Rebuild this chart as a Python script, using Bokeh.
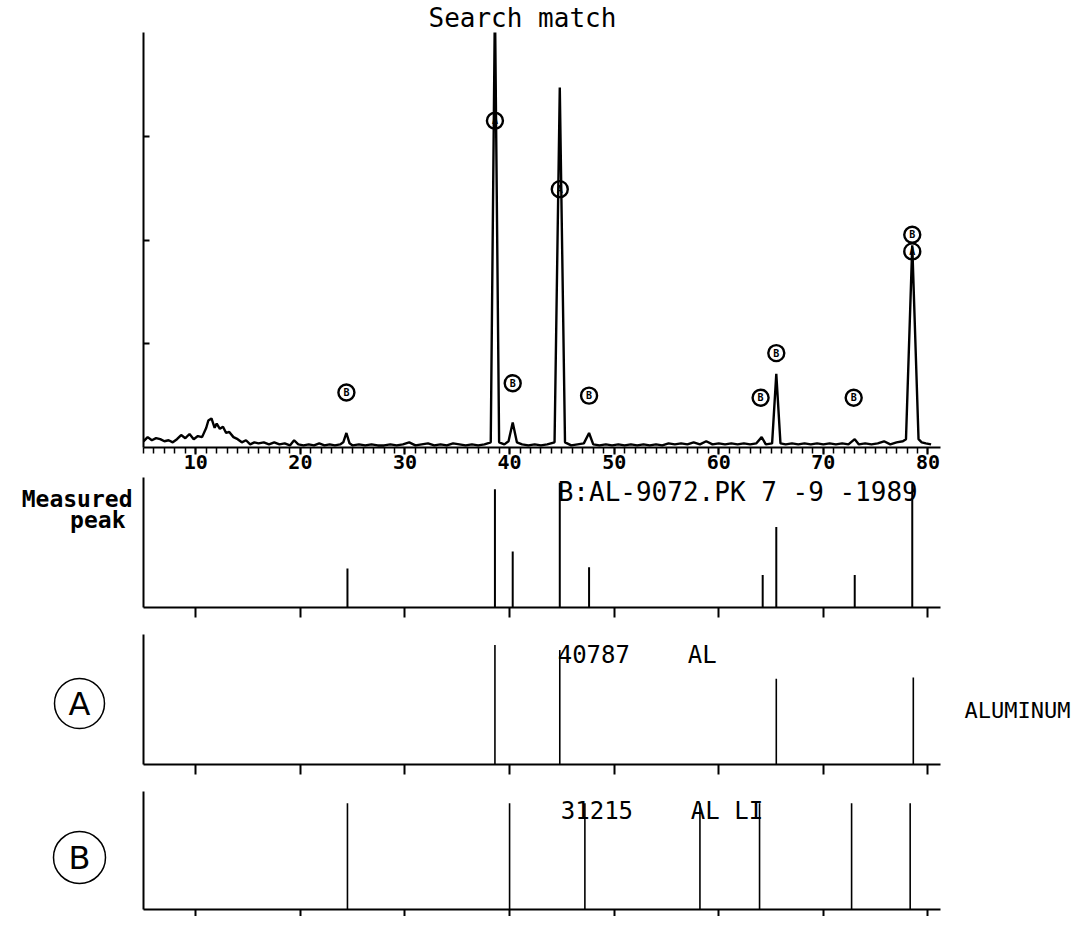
from bokeh.plotting import figure
from bokeh.layouts import column, row
from bokeh.models import Range1d, FixedTicker, Label
from bokeh.embed import file_html
from bokeh.resources import INLINE
from bokeh.core.properties import value

# ---------------- data ----------------
two_theta = [5.0, 5.4, 5.8, 6.2, 6.6, 7.0, 7.4, 7.8, 8.2, 8.6, 9.0, 9.4, 9.8, 10.2, 10.6,
             11.0, 11.2, 11.5, 11.8, 12.0, 12.3, 12.6, 12.9, 13.2, 13.6, 14.0, 14.4, 14.8,
             15.2, 15.6, 16.0, 16.5, 17.0, 17.5, 18.0, 18.5, 19.0, 19.4, 19.8, 20.3, 20.8,
             21.3, 21.8, 22.3, 22.8, 23.3, 23.8, 24.1, 24.4, 24.7, 25.0, 25.6, 26.2, 26.8,
             27.4, 28.0, 28.6, 29.2, 29.8, 30.4, 31.0, 31.6, 32.2, 32.8, 33.4, 34.0, 34.6,
             35.2, 35.8, 36.4, 37.0, 37.6, 38.2, 38.6, 39.0, 39.5, 39.9, 40.3, 40.7, 41.2,
             41.8, 42.4, 43.0, 43.6, 44.3, 44.8, 45.3, 45.9, 46.5, 47.1, 47.6, 48.0, 48.6,
             49.2, 49.8, 50.4, 51.0, 51.6, 52.2, 52.8, 53.4, 54.0, 54.6, 55.2, 55.8, 56.4,
             57.0, 57.6, 58.2, 58.8, 59.4, 60.0, 60.6, 61.2, 61.8, 62.4, 63.0, 63.6, 64.1,
             64.5, 65.1, 65.5, 65.9, 66.4, 67.0, 67.6, 68.2, 68.8, 69.4, 70.0, 70.6, 71.2,
             71.8, 72.4, 73.0, 73.4, 74.0, 74.6, 75.2, 75.8, 76.4, 77.0, 77.6, 77.9, 78.5,
             79.1, 79.4, 79.8, 80.3]
intensity = [0.06, 0.10, 0.07, 0.09, 0.08, 0.06, 0.07, 0.05, 0.08, 0.12, 0.09, 0.13, 0.08, 0.11, 0.10,
             0.19, 0.26, 0.28, 0.19, 0.23, 0.18, 0.20, 0.14, 0.15, 0.10, 0.08, 0.05, 0.07,
             0.03, 0.05, 0.04, 0.05, 0.03, 0.05, 0.03, 0.04, 0.02, 0.07, 0.03, 0.02, 0.03,
             0.02, 0.04, 0.02, 0.03, 0.02, 0.03, 0.05, 0.14, 0.04, 0.02, 0.03, 0.02, 0.03,
             0.02, 0.02, 0.03, 0.02, 0.03, 0.05, 0.02, 0.03, 0.04, 0.02, 0.03, 0.02, 0.04,
             0.03, 0.02, 0.03, 0.02, 0.03, 0.05, 4.30, 0.05, 0.03, 0.06, 0.24, 0.05, 0.03,
             0.02, 0.03, 0.02, 0.03, 0.05, 3.47, 0.05, 0.02, 0.03, 0.04, 0.14, 0.03, 0.02,
             0.03, 0.02, 0.03, 0.02, 0.03, 0.02, 0.03, 0.02, 0.03, 0.02, 0.04, 0.03, 0.04,
             0.03, 0.05, 0.03, 0.06, 0.03, 0.04, 0.03, 0.04, 0.03, 0.04, 0.03, 0.04, 0.10,
             0.03, 0.04, 0.71, 0.04, 0.03, 0.04, 0.03, 0.04, 0.03, 0.04, 0.03, 0.04, 0.03,
             0.04, 0.03, 0.08, 0.03, 0.04, 0.03, 0.04, 0.06, 0.03, 0.05, 0.06, 0.08, 1.95,
             0.08, 0.05, 0.04, 0.03]

marker_x = [38.6, 44.8, 78.5, 78.5, 24.4, 40.3, 47.6, 64.0, 65.5, 72.9]
marker_y = [3.15, 2.49, 1.89, 2.05, 0.53, 0.62, 0.50, 0.48, 0.91, 0.48]
marker_phase = ["A", "A", "A", "B", "B", "B", "B", "B", "B", "B"]

tick_values = [10, 20, 30, 40, 50, 60, 70, 80]
y_tick_values = [1, 2, 3]

measured_x = [24.5, 38.6, 40.3, 44.8, 47.6, 64.2, 65.5, 73.0, 78.5]
measured_h = [30, 91, 43, 96, 31, 25, 62, 25, 95]

phase_a_x = [38.6, 44.8, 65.5, 78.6]
phase_a_h = [92, 88, 66, 67]

phase_b_x = [24.5, 40.0, 47.2, 58.2, 63.9, 72.7, 78.3]
phase_b_h = [90, 90, 90, 90, 90, 90, 90]

NB = "\u00a0"
title_text = "Search match"
measured_title = "B:AL-9072.PK" + NB + "7" + NB + "-9" + NB + "-1989"
measured_side = ["Measured", "peak"]
phase_a_title = "40787" + NB * 4 + "AL"
phase_a_name = "ALUMINUM"
phase_b_title = "31215" + NB * 4 + "AL" + NB + "LI"

# ---------------- layout ----------------
X0, X1 = 5, 81.2
MONO = "DejaVu Sans Mono"
FW = 797          # frame width (x 5 .. 81.2)
SIDE = 140        # width of the left side strip for the lower panels
PAD = 3           # small border so the axis lines are fully drawn


def base_fig(frame_h, left, right, top, bottom, y_end):
    p = figure(frame_width=FW, frame_height=frame_h,
               x_range=Range1d(X0, X1), y_range=Range1d(0, y_end),
               output_backend="svg", toolbar_location=None,
               min_border_left=left, min_border_right=right,
               min_border_top=top, min_border_bottom=bottom)
    p.outline_line_color = None
    p.grid.visible = False
    p.background_fill_color = "white"
    p.border_fill_color = "white"
    return p


def blank_labels(ax, ticks):
    ax.major_label_overrides = {t: "" for t in ticks}
    ax.major_label_text_font_size = "0px"
    ax.major_label_standoff = 0


# ---------- main spectrum ----------
main = base_fig(415, 143, 132, 32, 30, 4)
main.line(two_theta, intensity, line_color="black", line_width=2.4)
main.scatter(marker_x, marker_y, size=16, marker="circle", fill_color=None,
             line_color="black", line_width=2.4)
main.text(marker_x, marker_y, text=marker_phase, text_font=value(MONO),
          text_font_size="10px", text_font_style="bold", text_align="center",
          text_baseline="middle", text_color="black")

xa = main.xaxis[0]
xa.ticker = FixedTicker(ticks=tick_values, minor_ticks=list(range(5, 81)))
xa.major_tick_out = 7
xa.major_tick_in = 0
xa.minor_tick_out = 6
xa.minor_tick_in = 0
xa.axis_line_width = 2
xa.major_tick_line_width = 2
xa.minor_tick_line_width = 1.5
xa.major_label_text_font = MONO
xa.major_label_text_font_size = "20px"
xa.major_label_text_font_style = "bold"
xa.major_label_text_color = "black"
xa.major_label_standoff = 0

ya = main.yaxis[0]
ya.ticker = FixedTicker(ticks=y_tick_values, minor_ticks=[])
ya.major_tick_in = 6
ya.major_tick_out = 0
blank_labels(ya, y_tick_values)
ya.axis_line_width = 2
ya.major_tick_line_width = 2

main.title.text = title_text
main.title.text_font = MONO
main.title.text_font_size = "26px"
main.title.text_font_style = "normal"
main.title.text_color = "black"
main.title.align = "left"
main.title.offset = 285
main.title.standoff = 0


# ---------- stick panels ----------
def stick_panel(xs, hs, frame_h, right, bottom, lw, tick_out):
    p = base_fig(frame_h, PAD, right, 0, bottom, 100)
    p.segment(x0=xs, y0=0, x1=xs, y1=hs, line_color="black", line_width=lw)
    ax = p.xaxis[0]
    ax.ticker = FixedTicker(ticks=tick_values, minor_ticks=[])
    ax.major_tick_out = tick_out
    ax.major_tick_in = 0
    blank_labels(ax, tick_values)
    ax.axis_line_width = 2
    ax.major_tick_line_width = 2
    ay = p.yaxis[0]
    ay.ticker = FixedTicker(ticks=[], minor_ticks=[])
    ay.major_tick_out = 0
    ay.major_tick_in = 0
    ay.major_label_text_font_size = "0px"
    ay.major_label_standoff = 0
    ay.axis_line_width = 2
    return p


def side_fig(w, h):
    s = figure(frame_width=w, frame_height=h, x_range=Range1d(0, w), y_range=Range1d(0, h),
               output_backend="svg", toolbar_location=None,
               x_axis_location=None, y_axis_location=None,
               min_border_left=0, min_border_right=0, min_border_top=0, min_border_bottom=0)
    s.outline_line_color = None
    s.grid.visible = False
    s.background_fill_color = "white"
    s.border_fill_color = "white"
    return s


def panel_text(p, text, x, dy, size="24px"):
    p.add_layout(Label(x=x, y=100, y_offset=dy, text=text, text_font=MONO,
                       text_font_size=size, text_align="left", text_baseline="middle",
                       text_color="black"))


def circled(s, letter, cx, cy, d):
    s.scatter([cx], [cy], size=d, marker="circle", fill_color=None,
              line_color="black", line_width=1.5)
    s.text([cx], [cy], text=[letter], text_font=value("DejaVu Sans"),
           text_font_size="32px", text_align="center", text_baseline="middle",
           text_color="black")


H1, H2, H3 = 157, 157, 125

# row 1 : measured peaks
p1 = stick_panel(measured_x, measured_h, 130, 132, 27, 2, 10)
panel_text(p1, measured_title, 44.6, -14, size="26px")
s1 = side_fig(SIDE, H1)
s1.text([132, 125], [H1 - 21, H1 - 42], text=measured_side,
        text_font=value(MONO), text_font_size="23px", text_font_style="bold",
        text_align="right", text_baseline="middle", text_color="black")

# row 2 : phase A
RIGHT2 = 1072 - SIDE - PAD - FW - PAD
p2 = stick_panel(phase_a_x, phase_a_h, 130, PAD, 27, 1.6, 10)
panel_text(p2, phase_a_title, 44.6, -20)
s2 = side_fig(SIDE, H2)
circled(s2, "A", 79, H2 - 69, 50)
r2 = side_fig(RIGHT2, H2)
r2.text([21], [H2 - 76], text=[phase_a_name], text_font=value(MONO),
        text_font_size="22px", text_align="left", text_baseline="middle",
        text_color="black")

# row 3 : phase B
p3 = stick_panel(phase_b_x, phase_b_h, 118, 132, 7, 1.6, 7)
panel_text(p3, phase_b_title, 44.9, -19)
s3 = side_fig(SIDE, H3)
circled(s3, "B", 79, H3 - 66, 52)

layout = column(main,
                row(s1, p1, spacing=0),
                row(s2, p2, r2, spacing=0),
                row(s3, p3, spacing=0),
                spacing=0)

open("out.html", "w").write(file_html(layout, INLINE))
